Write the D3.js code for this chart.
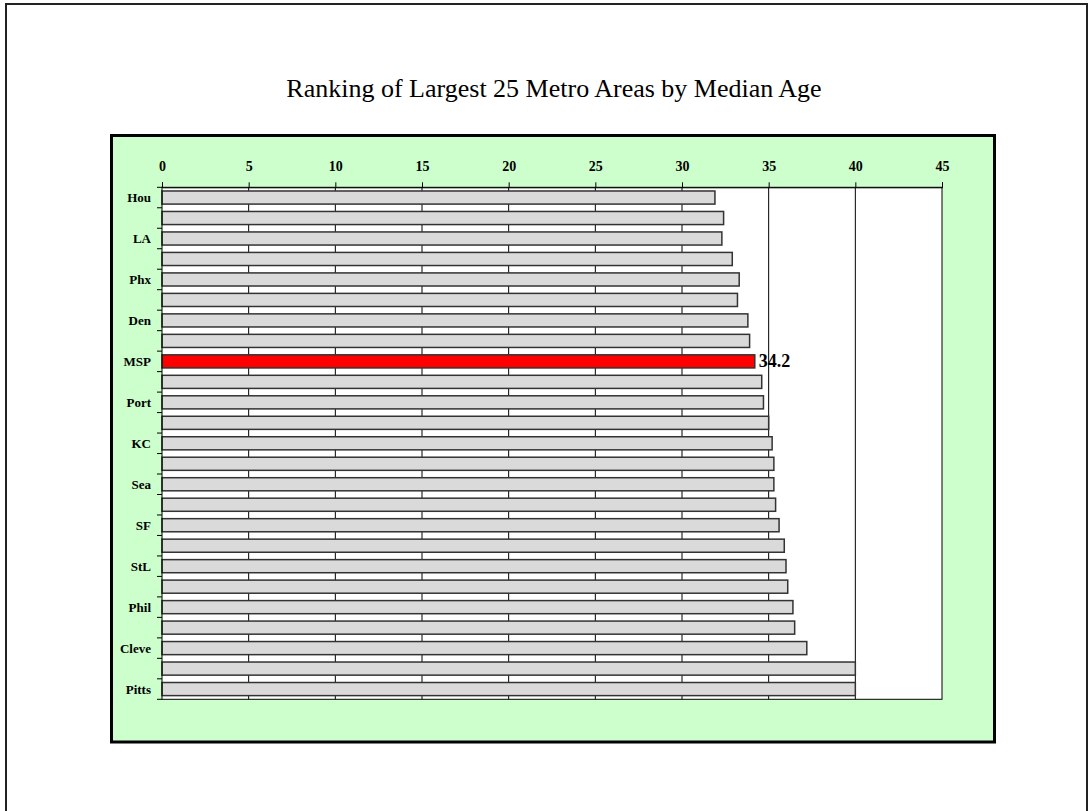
<!DOCTYPE html>
<html>
<head>
<meta charset="utf-8">
<script src="https://cdn.jsdelivr.net/npm/d3@7/dist/d3.min.js"></script>
<style>
  html, body { margin: 0; padding: 0; background: #ffffff; }
  svg { display: block; }
  text { font-family: "Liberation Serif", "Times New Roman", serif; }
</style>
</head>
<body>
<svg id="chart" width="1091" height="811"></svg>
<script>
// Metro areas ranked by median age (every other area is labelled on the axis)
const areaLabels = ["Hou", "", "LA", "", "Phx", "", "Den", "", "MSP", "", "Port", "", "KC", "",
                    "Sea", "", "SF", "", "StL", "", "Phil", "", "Cleve", "", "Pitts"];
const medianAge = [31.9, 32.4, 32.3, 32.9, 33.3, 33.2, 33.8, 33.9, 34.2, 34.6, 34.7, 35.0, 35.2,
                   35.3, 35.3, 35.4, 35.6, 35.9, 36.0, 36.1, 36.4, 36.5, 37.2, 40.0, 40.0];
const highlightArea = "MSP";
const ageTicks = [0, 5, 10, 15, 20, 25, 30, 35, 40, 45];
const chartTitle = "Ranking of Largest 25 Metro Areas by Median Age";

const svg = d3.select("#chart");

// page frame
svg.append("rect")
  .attr("x", 6).attr("y", 4).attr("width", 1081).attr("height", 900)
  .attr("fill", "#ffffff").attr("stroke", "#222").attr("stroke-width", 2);

svg.append("text")
  .attr("x", 554).attr("y", 97)
  .attr("text-anchor", "middle")
  .attr("font-size", 26)
  .attr("fill", "#000")
  .text(chartTitle);

// green chart panel
svg.append("rect")
  .attr("x", 111.5).attr("y", 135.5).attr("width", 883).attr("height", 606.5)
  .attr("fill", "#ccffcc").attr("stroke", "#000").attr("stroke-width", 3);

const plot = { left: 162, top: 187.3, right: 942, bottom: 699.3 };

const x = d3.scaleLinear().domain([0, 45]).range([plot.left, plot.right]);
const y = d3.scaleBand()
  .domain(d3.range(areaLabels.length))
  .range([plot.top, plot.bottom])
  .paddingInner(0.36)
  .paddingOuter(0.18);

// plot area
svg.append("rect")
  .attr("x", plot.left).attr("y", plot.top)
  .attr("width", plot.right - plot.left).attr("height", plot.bottom - plot.top)
  .attr("fill", "#ffffff");

// vertical gridlines
svg.append("g")
  .selectAll("line")
  .data(ageTicks.slice(1, -1))
  .join("line")
  .attr("x1", d => x(d)).attr("x2", d => x(d))
  .attr("y1", plot.top).attr("y2", plot.bottom)
  .attr("stroke", "#000").attr("stroke-width", 1);

// bars
svg.append("g")
  .selectAll("rect")
  .data(medianAge)
  .join("rect")
  .attr("x", x(0))
  .attr("y", (d, i) => y(i))
  .attr("width", d => x(d) - x(0))
  .attr("height", y.bandwidth())
  .attr("fill", (d, i) => areaLabels[i] === highlightArea ? "#ff0000" : "#dadada")
  .attr("stroke", "#333")
  .attr("stroke-width", 1.5);

// value label on the highlighted bar
const hi = areaLabels.indexOf(highlightArea);
svg.append("text")
  .attr("x", x(medianAge[hi]) + 4)
  .attr("y", y(hi) + y.bandwidth() / 2 + 6)
  .attr("font-size", 18)
  .attr("font-weight", "bold")
  .attr("fill", "#000")
  .text(d3.format(".1f")(medianAge[hi]));

// plot border
svg.append("rect")
  .attr("x", plot.left).attr("y", plot.top)
  .attr("width", plot.right - plot.left).attr("height", plot.bottom - plot.top)
  .attr("fill", "none").attr("stroke", "#000").attr("stroke-width", 1);

// top value axis
const xAxis = svg.append("g")
  .attr("transform", `translate(0,${plot.top})`)
  .call(d3.axisTop(x).tickValues(ageTicks).tickSize(5).tickPadding(11).tickFormat(d3.format("d")));
xAxis.select(".domain").attr("stroke", "#000");
xAxis.selectAll(".tick line").attr("stroke", "#000");
xAxis.selectAll("text")
  .attr("font-family", "Liberation Serif, Times New Roman, serif")
  .attr("font-size", 14).attr("font-weight", "bold").attr("fill", "#000");

// left category axis: ticks at band boundaries, labels at band centres
const bounds = d3.range(areaLabels.length + 1).map(i => plot.top + i * (plot.bottom - plot.top) / areaLabels.length);
svg.append("g")
  .selectAll("line")
  .data(bounds)
  .join("line")
  .attr("x1", plot.left - 5).attr("x2", plot.left)
  .attr("y1", d => d).attr("y2", d => d)
  .attr("stroke", "#000").attr("stroke-width", 1);

svg.append("g")
  .selectAll("text")
  .data(areaLabels)
  .join("text")
  .attr("x", 151)
  .attr("y", (d, i) => y(i) + y.bandwidth() / 2)
  .attr("dy", "0.35em")
  .attr("text-anchor", "end")
  .attr("font-size", 13)
  .attr("font-weight", "bold")
  .attr("fill", "#000")
  .text(d => d);
</script>
</body>
</html>
